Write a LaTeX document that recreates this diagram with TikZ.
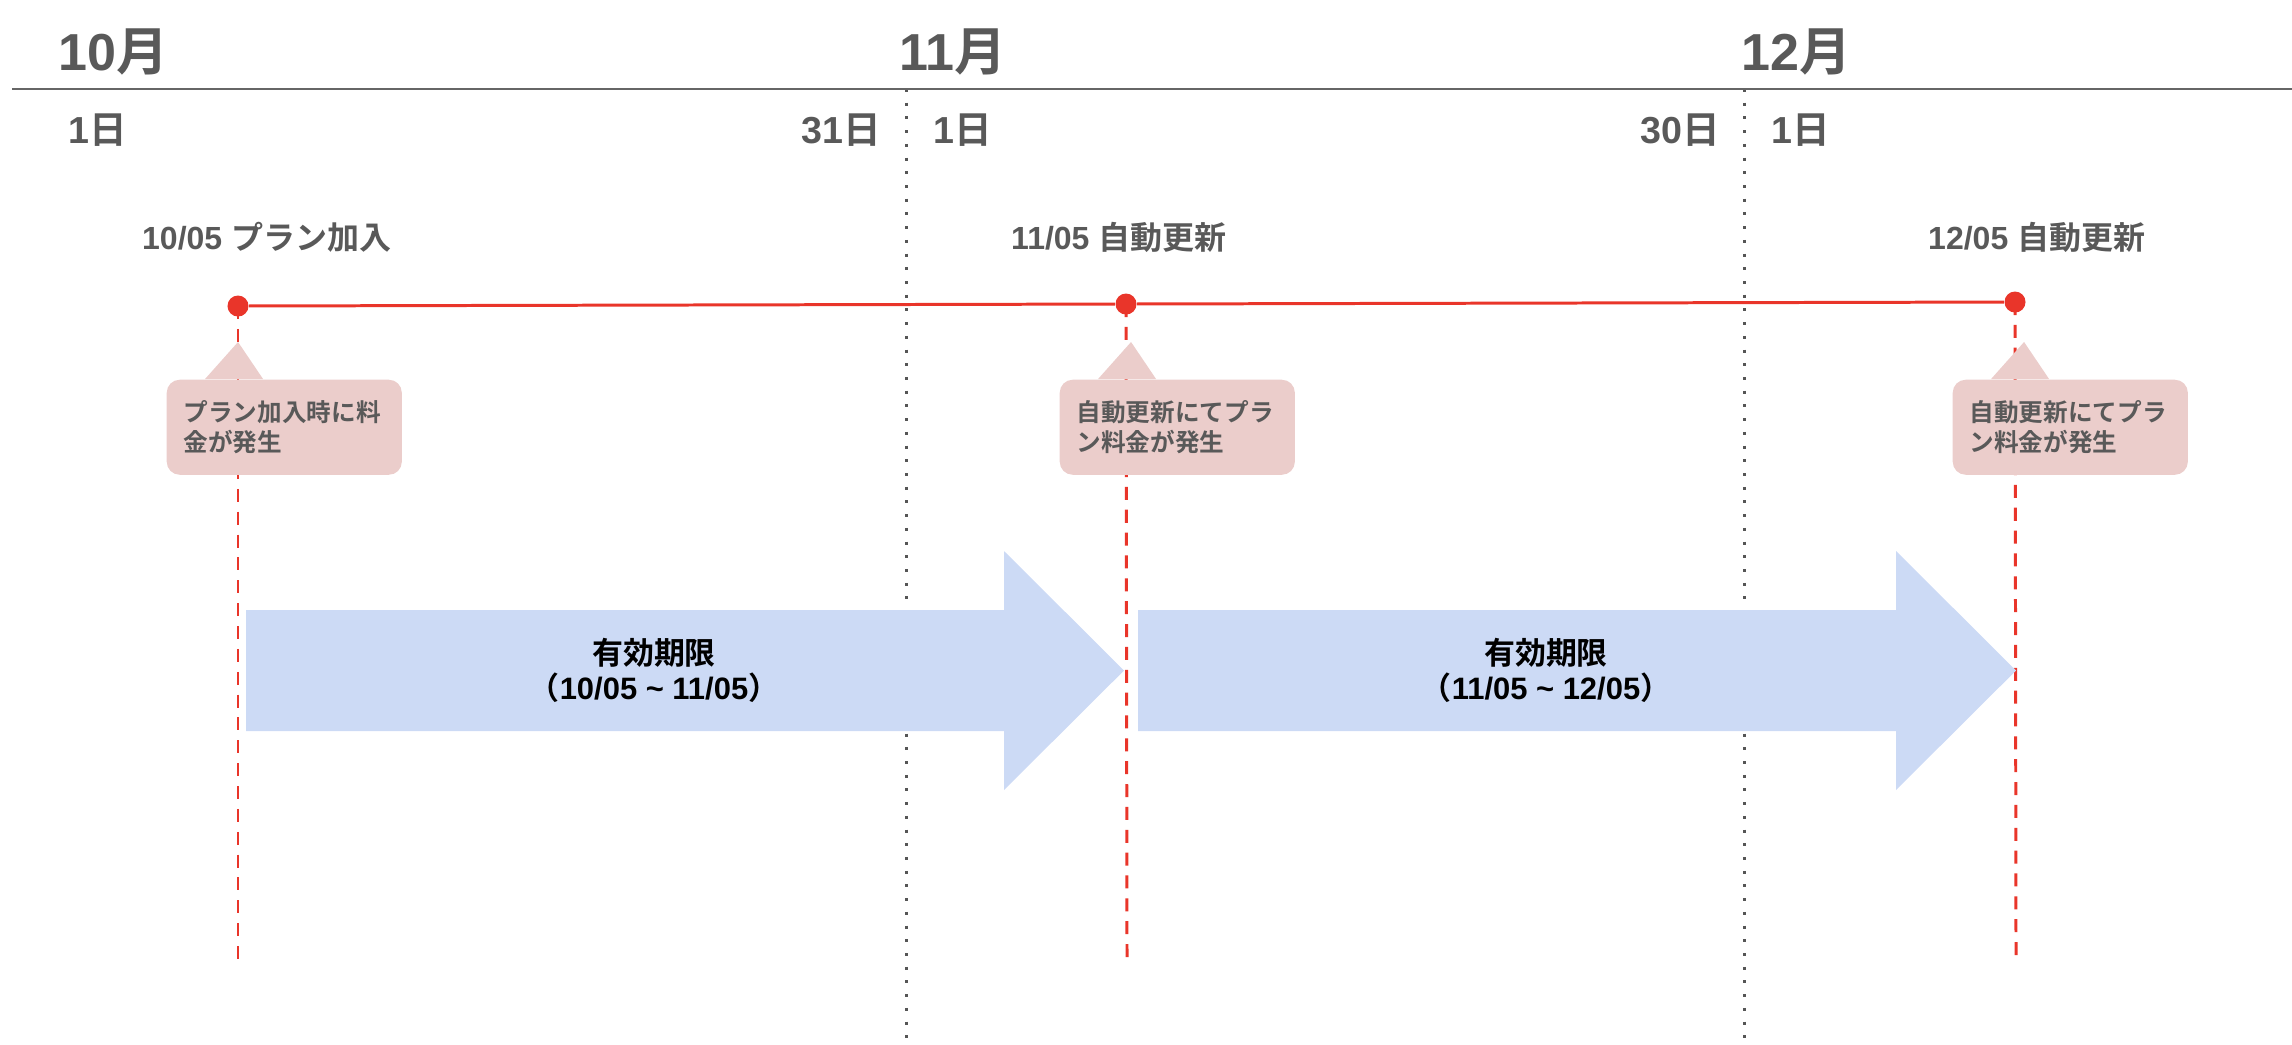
\documentclass[tikz,border=0pt]{standalone}
\usepackage{fontspec}
\setmainfont{Liberation Sans}
\newfontfamily\jp{Noto Sans CJK JP}[BoldFont={Noto Sans CJK JP Bold}]
\newcommand{\ja}[1]{{\jp\bfseries #1}}
\definecolor{textgray}{HTML}{595959}
\definecolor{axisgray}{HTML}{666666}
\definecolor{sepgray}{HTML}{555555}
\definecolor{planred}{HTML}{E9352A}
\definecolor{callpink}{HTML}{EBCDCB}
\definecolor{arrowblue}{HTML}{CCDAF5}
\begin{document}
\begin{tikzpicture}[x=0.01cm, y=-0.01cm,
    month/.style={text=textgray, font=\bfseries\fontsize{14.8}{17}\selectfont, inner sep=0},
    day/.style={text=textgray, font=\bfseries\fontsize{10.7}{12}\selectfont, inner sep=0},
    event/.style={text=textgray, font=\bfseries\fontsize{9.1}{11}\selectfont, inner sep=0, anchor=base west},
    dot/.style={circle, fill=planred, inner sep=0, minimum size=0.21cm},
    callbox/.style={fill=callpink, rounded corners=0.13cm, text=textgray,
        font=\bfseries\fontsize{7}{8.5}\selectfont, align=left, text width=2.01cm,
        inner xsep=0.17cm, inner ysep=0, minimum height=0.95cm, anchor=north west},
    period/.style={fill=arrowblue},
    periodtext/.style={font=\bfseries\fontsize{8.8}{10}\selectfont, align=center, inner sep=0},
    reddash/.style={draw=planred, line width=0.85pt, dash pattern=on 3.7pt off 2.8pt},
    monthsep/.style={draw=sepgray, line width=0.85pt, dash pattern=on 0.85pt off 3.05pt}]

    \useasboundingbox (0,0) rectangle (2292,1044);

    % Month separators
    \coordinate (s1top) at (906,89);
    \coordinate (s1bot) at (906,1044);
    \coordinate (s2top) at (1744,89);
    \coordinate (s2bot) at (1744,1044);
    \draw[monthsep] (s1top) -- (s1bot);
    \draw[monthsep] (s2top) -- (s2bot);

    % Time axis
    \coordinate (axl) at (12,89);
    \coordinate (axr) at (2292,89);
    \draw[axisgray, line width=0.77pt] (axl) -- (axr);

    % Months and days
    \node[month, anchor=base west] (m10) at (58,70) {10\ja{月}};
    \node[month, anchor=base west] (m11) at (899,70) {11\ja{月}};
    \node[month, anchor=base west] (m12) at (1741,70) {12\ja{月}};
    \node[day, anchor=base west] (d10a) at (68,143) {1\ja{日}};
    \node[day, anchor=base east] (d10b) at (882,143) {31\ja{日}};
    \node[day, anchor=base west] (d11a) at (933,143) {1\ja{日}};
    \node[day, anchor=base east] (d11b) at (1721,143) {30\ja{日}};
    \node[day, anchor=base west] (d12a) at (1771,143) {1\ja{日}};

    % Events
    \node[event] (ev1) at (141.5,249) {10/05 \ja{プラン加入}};
    \node[event] (ev2) at (1010.5,249) {11/05 \ja{自動更新}};
    \node[event] (ev3) at (1927.5,249) {12/05 \ja{自動更新}};

    \coordinate (e1) at (238,960);
    \coordinate (e2) at (1127,960);
    \coordinate (e3) at (2016,960);
    \node[dot] (p1) at (238,306) {};
    \node[dot] (p2) at (1126,304) {};
    \node[dot] (p3) at (2015,302) {};
    \draw[reddash] (p1.center) -- (e1);
    \draw[reddash] (p2.center) -- (e2);
    \draw[reddash] (p3.center) -- (e3);
    \draw[planred, line width=0.85pt] (p1) -- (p2) -- (p3);

    % Callouts
    \node[callbox] (c1) at (166,379) {\ja{プラン加入時に料}\\\ja{金が発生}};
    \node[callbox] (c2) at (1059,379) {\ja{自動更新にてプラ}\\\ja{ン料金が発生}};
    \node[callbox] (c3) at (1952,379) {\ja{自動更新にてプラ}\\\ja{ン料金が発生}};
    \foreach \c in {c1,c2,c3}
        \fill[callpink] ([xshift=0.39cm]\c.north west) -- ([xshift=0.72cm,yshift=0.37cm]\c.north west)
            -- ([xshift=0.97cm]\c.north west) -- cycle;

    % Validity periods
    \foreach \dx in {0,892}
        \fill[period, xshift=\dx*0.01cm] (246,610) -- (1004,610) -- (1004,551) -- (1124,670.5)
            -- (1004,790) -- (1004,731) -- (246,731) -- cycle;
    \node[periodtext] (t1) at (654,670.5) {\ja{有効期限}\\\ja{（}10/05 \textasciitilde{} 11/05\ja{）}};
    \node[periodtext] (t2) at (1546,670.5) {\ja{有効期限}\\\ja{（}11/05 \textasciitilde{} 12/05\ja{）}};

\end{tikzpicture}
\end{document}
